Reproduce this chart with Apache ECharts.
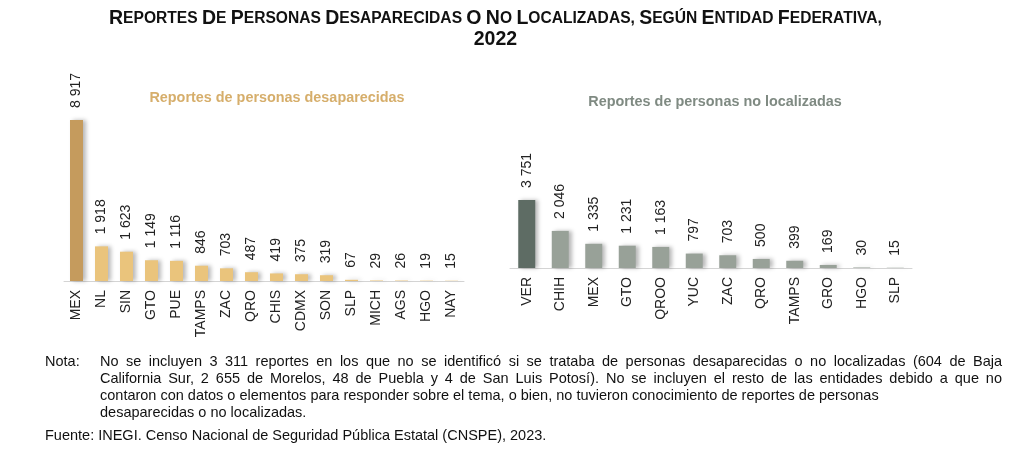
<!DOCTYPE html>
<html>
<head>
<meta charset="utf-8">
<script src="https://cdn.jsdelivr.net/npm/echarts@6/dist/echarts.min.js"></script>
<style>
  html, body { margin: 0; padding: 0; background: #fff; }
  #main { width: 1024px; height: 457px; }
</style>
</head>
<body>
<div id="main"></div>
<script>
// desaparecidas
const desapStates = ['MEX', 'NL', 'SIN', 'GTO', 'PUE', 'TAMPS', 'ZAC', 'QRO', 'CHIS', 'CDMX', 'SON', 'SLP', 'MICH', 'AGS', 'HGO', 'NAY'];
const desapValues = [8917, 1918, 1623, 1149, 1116, 846, 703, 487, 419, 375, 319, 67, 29, 26, 19, 15];

// no localizadas
const noLocStates = ['VER', 'CHIH', 'MEX', 'GTO', 'QROO', 'YUC', 'ZAC', 'QRO', 'TAMPS', 'GRO', 'HGO', 'SLP'];
const noLocValues = [3751, 2046, 1335, 1231, 1163, 797, 703, 500, 399, 169, 30, 15];

const titleLine1 = 'Reportes de personas desaparecidas o no localizadas, según entidad federativa,';
const titleLine2 = '2022';
const subLeft = 'Reportes de personas desaparecidas';
const subRight = 'Reportes de personas no localizadas';

const noteLines = [
  'No se incluyen 3 311 reportes en los que no se identificó si se trataba de personas desaparecidas o no localizadas (604 de Baja',
  'California Sur, 2 655 de Morelos, 48 de Puebla y 4 de San Luis Potosí). No se incluyen el resto de las entidades debido a que no',
  'contaron con datos o elementos para responder sobre el tema, o bien, no tuvieron conocimiento de reportes de personas',
  'desaparecidas o no localizadas.'
];
const source = 'Fuente: INEGI. Censo Nacional de Seguridad Pública Estatal (CNSPE), 2023.';

const FONT = '"Liberation Sans", Arial, sans-serif';
const NOTE_FONT = '14.5px ' + FONT;

// small caps via rich text: first letter of each word big, the rest small
function smallCaps(str) {
  return str.split(' ').map(w => {
    const first = w.charAt(0).toUpperCase();
    const rest = w.slice(1).toUpperCase();
    return '{big|' + first + '}' + (rest ? '{sm|' + rest + '}' : '');
  }).join('{sm| }');
}

const fmt = v => String(v).replace(/\B(?=(\d{3})+(?!\d))/g, ' ');

function barData(values, first, rest) {
  return values.map((v, i) => ({
    value: v,
    itemStyle: { color: i === 0 ? first : rest }
  }));
}

// justified note lines: one text element per word
const measureCtx = document.createElement('canvas').getContext('2d');
function noteLine(text, x0, x1, y, justify) {
  if (!justify) {
    return [{ type: 'text', left: x0, top: y, style: { text, font: NOTE_FONT, fill: '#111' } }];
  }
  measureCtx.font = NOTE_FONT;
  const words = text.split(' ');
  const widths = words.map(w => measureCtx.measureText(w).width);
  const total = widths.reduce((a, b) => a + b, 0);
  const gap = (x1 - x0 - total) / (words.length - 1);
  let x = x0;
  return words.map((w, i) => {
    const el = { type: 'text', x, y, style: { text: w, font: NOTE_FONT, fill: '#111' } };
    x += widths[i] + gap;
    return el;
  });
}

const chart = echarts.init(document.getElementById('main'));

const valueLabel = {
  show: true,
  position: 'top',
  rotate: 90,
  align: 'left',
  verticalAlign: 'middle',
  distance: 12,
  fontFamily: FONT,
  fontSize: 14,
  color: '#222',
  formatter: p => fmt(p.value)
};

const catAxis = (data, gridIndex) => ({
  type: 'category',
  gridIndex,
  data,
  axisTick: { show: false },
  axisLine: { lineStyle: { color: '#d4d4d4', width: 1 } },
  axisLabel: { rotate: 90, margin: 9, fontFamily: FONT, fontSize: 14, color: '#222', interval: 0 }
});

const barStyle = {
  shadowColor: 'rgba(0,0,0,0.28)',
  shadowBlur: 4,
  shadowOffsetX: 3,
  shadowOffsetY: 0
};

const noteGraphics = [];
noteLines.forEach((line, i) => {
  noteGraphics.push(...noteLine(line, 100, 1002, 354 + i * 17.3, i < 2));
});

chart.setOption({
  animation: false,
  title: [
    {
      text: smallCaps(titleLine1) + '\n{big|' + titleLine2 + '}',
      left: 104,
      top: 3,
      textStyle: {
        rich: {
          big: { fontFamily: FONT, fontWeight: 'bold', fontSize: 19.5, color: '#111', lineHeight: 21, align: 'center' },
          sm: { fontFamily: FONT, fontWeight: 'bold', fontSize: 15.6, color: '#111', lineHeight: 21 }
        }
      }
    },
    {
      text: subLeft, left: 272, top: 86, textAlign: 'center',
      textStyle: { fontFamily: FONT, fontWeight: 'bold', fontSize: 14.4, color: '#d6ae6b' }
    },
    {
      text: subRight, left: 710, top: 90, textAlign: 'center',
      textStyle: { fontFamily: FONT, fontWeight: 'bold', fontSize: 14.4, color: '#7f8a82' }
    }
  ],
  grid: [
    { left: 64, width: 400, top: 120, height: 161 },
    { left: 510, width: 402, top: 200, height: 68 }
  ],
  xAxis: [catAxis(desapStates, 0), catAxis(noLocStates, 1)],
  yAxis: [
    { type: 'value', gridIndex: 0, min: 0, max: 8917, show: false },
    { type: 'value', gridIndex: 1, min: 0, max: 3751, show: false }
  ],
  series: [
    {
      type: 'bar', xAxisIndex: 0, yAxisIndex: 0, barWidth: 13,
      data: barData(desapValues, '#c59b5d', '#eac47c'),
      itemStyle: barStyle,
      label: valueLabel
    },
    {
      type: 'bar', xAxisIndex: 1, yAxisIndex: 1, barWidth: 17,
      data: barData(noLocValues, '#5e6c64', '#98a198'),
      itemStyle: barStyle,
      label: valueLabel
    }
  ],
  graphic: [
    { type: 'text', left: 45, top: 354, style: { text: 'Nota:', font: NOTE_FONT, fill: '#111' } },
    ...noteGraphics,
    { type: 'text', left: 45, top: 428, style: { text: source, font: NOTE_FONT, fill: '#111' } }
  ]
});
</script>
</body>
</html>
